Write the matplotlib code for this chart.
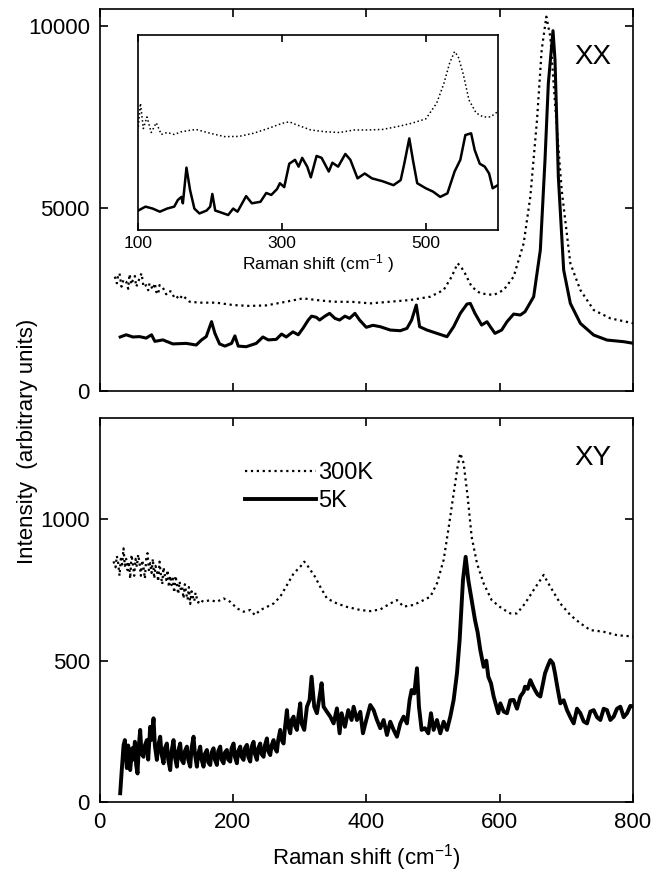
import matplotlib
matplotlib.use("Agg")
import matplotlib.pyplot as plt

# ---- data ----
# XX polarisation, main panel
xx5_shift = [31, 40, 50, 60, 70, 78, 83, 95, 110, 130, 145, 153, 160, 168, 173, 180, 188, 198, 203, 208,
             220, 235, 245, 253, 265, 273, 280, 290, 298, 305, 313, 318, 325, 330, 338, 345, 353, 360, 368,
             375, 383, 390, 400, 410, 421, 436, 451, 461, 468, 475, 480, 491, 506, 521, 531, 541, 551, 556,
             563, 573, 581, 586, 593, 603, 611, 621, 631, 638, 651, 661, 668, 673, 680, 683, 688, 696, 706,
             721, 741, 761, 786, 801]
xx5_int = [1480, 1540, 1480, 1490, 1450, 1540, 1360, 1400, 1290, 1305, 1260, 1400, 1490, 1900, 1580, 1290,
           1230, 1305, 1510, 1230, 1214, 1305, 1480, 1400, 1415, 1560, 1480, 1620, 1540, 1715, 1944, 2050,
           2020, 1944, 2050, 2127, 1990, 1944, 2050, 1990, 2127, 1944, 1745, 1800, 1761, 1670, 1652, 1716,
           1944, 2355, 1761, 1670, 1579, 1488, 1761, 2127, 2382, 2400, 2127, 1807, 1898, 1761, 1579, 1670,
           1898, 2108, 2081, 2172, 2583, 3862, 6325, 8425, 9867, 9064, 5868, 3313, 2400, 1853, 1533, 1396,
           1351, 1305]

xx300_shift = [23, 26, 28, 30, 33, 36, 40, 43, 45, 48, 50, 53, 55, 58, 60, 63, 66, 70, 73, 75, 78, 80, 83,
               85, 88, 90, 95, 100, 104, 108, 112, 115, 120, 124, 128, 135, 150, 175, 200, 225, 250, 280,
               305, 325, 350, 380, 406, 436, 466, 496, 516, 528, 537, 542, 548, 558, 571, 591, 606, 621,
               636, 646, 656, 663, 670, 676, 683, 693, 706, 721, 741, 766, 801]
xx300_int = [3131, 2950, 3180, 3222, 2857, 3050, 2994, 2800, 3200, 2920, 3040, 3150, 2857, 2980, 3100, 3222,
             2850, 2900, 2760, 2948, 2850, 2780, 2950, 2720, 2650, 2900, 2830, 2650, 2740, 2720, 2560, 2600,
             2510, 2620, 2560, 2446, 2420, 2420, 2355, 2330, 2345, 2446, 2537, 2492, 2446, 2440, 2400, 2446,
             2492, 2583, 2766, 3131, 3496, 3404, 3222, 2857, 2674, 2629, 2766, 3131, 4043, 5321, 7420, 9337,
             10250, 9702, 7877, 5504, 3496, 2766, 2218, 1990, 1853]

# XX inset (arbitrary units)
in5_shift = [100, 110, 120, 130, 140, 150, 155, 160, 162, 167, 172, 178, 185, 195, 200, 203, 207, 215, 225,
             232, 238, 250, 258, 270, 278, 285, 293, 297, 303, 310, 318, 323, 328, 335, 340, 348, 355, 365,
             370, 378, 388, 395, 405, 415, 425, 440, 455, 465, 470, 477, 482, 488, 500, 510, 520, 530, 540,
             548, 555, 563, 568, 575, 582, 588, 593, 600]
in5_int = [10, 12, 11, 9.4, 11, 12, 15.4, 17, 13.7, 32, 20.5, 11, 8.5, 10, 12, 18.5, 10, 9, 7.7, 11, 9.4,
           17.4, 13.7, 14.5, 19, 18, 21, 24, 22, 34, 36, 32.5, 37, 32.5, 27, 38, 37, 30, 34.5, 32.5, 39, 36,
           26.5, 29, 26.5, 25, 23, 25.6, 34, 47, 36, 24, 21.4, 19.7, 17, 18.8, 30, 36, 48.7, 49.6, 41, 34,
           32.5, 29, 21.4, 23]

in300_shift = [100, 103, 107, 112, 118, 125, 132, 140, 150, 160, 180, 200, 220, 240, 260, 280, 300, 310,
               320, 340, 360, 380, 400, 420, 440, 460, 480, 500, 515, 525, 533, 540, 545, 552, 560, 570,
               580, 590, 600]
in300_int = [53, 65, 52, 58, 50, 55, 49, 50, 49, 50.4, 51.6, 49.6, 47.9, 48, 49.6, 52, 54.7, 55.5, 54,
             51.3, 50.4, 50, 51.3, 51.3, 51.6, 53, 54.7, 57, 65, 75, 85.5, 91.5, 89, 80, 66.7, 60, 58, 58,
             60.7]

# XY polarisation
xy300_shift = [21, 24, 26, 28, 30, 32, 34, 36, 38, 40, 42, 44, 46, 48, 50, 52, 54, 56, 58, 60, 62, 64, 66,
               68, 70, 72, 74, 76, 78, 80, 82, 84, 86, 88, 90, 92, 94, 96, 98, 100, 102, 104, 106, 108, 110,
               112, 114, 116, 118, 120, 122, 124, 126, 128, 130, 132, 134, 136, 138, 140, 142, 144, 146, 148,
               150, 156, 166, 176, 186, 196, 206, 216, 226, 233, 241, 251, 261, 271, 281, 291, 301, 307, 313,
               323, 331, 341, 356, 371, 391, 406, 421, 436, 446, 456, 471, 486, 496, 506, 516, 523, 531, 537,
               541, 546, 552, 558, 566, 576, 588, 603, 616, 626, 638, 651, 661, 666, 676, 691, 706, 721, 736,
               756, 776, 801]
xy300_int = [851, 830, 870, 845, 800, 860, 840, 897, 835, 860, 820, 850, 790, 874, 840, 800, 860, 832, 875,
             845, 800, 855, 830, 790, 860, 880, 820, 845, 810, 860, 790, 835, 820, 780, 850, 803, 770, 830,
             800, 785, 820, 760, 800, 767, 790, 740, 800, 770, 735, 780, 750, 760, 720, 770, 738, 715, 760,
             700, 745, 725, 710, 740, 720, 705, 715, 708, 714, 708, 720, 708, 685, 673, 679, 661, 679, 690,
             702, 726, 767, 808, 832, 850, 832, 797, 761, 720, 702, 690, 679, 675, 681, 702, 714, 691, 697,
             714, 726, 773, 856, 962, 1091, 1186, 1233, 1198, 1080, 938, 844, 773, 714, 685, 667, 667, 702,
             750, 785, 803, 761, 702, 661, 632, 608, 602, 590, 585]

xy5_shift = [31, 33, 36, 38, 41, 43, 46, 49, 51, 53, 55, 57, 59, 61, 63, 66, 68, 71, 73, 76, 78, 81, 83, 86,
             88, 91, 93, 96, 98, 101, 103, 106, 108, 111, 113, 116, 118, 121, 123, 126, 128, 131, 133, 136,
             138, 141, 143, 146, 148, 151, 153, 156, 158, 161, 163, 166, 168, 171, 173, 176, 178, 181, 183,
             186, 188, 191, 193, 196, 198, 201, 203, 206, 208, 211, 213, 216, 218, 221, 223, 226, 228, 231,
             233, 236, 238, 241, 243, 246, 248, 251, 253, 256, 258, 261, 263, 266, 268, 271, 273, 276, 278,
             281, 283, 286, 288, 291, 293, 296, 298, 301, 303, 307, 311, 315, 318, 322, 326, 330, 333, 336,
             341, 346, 351, 356, 360, 363, 368, 373, 378, 381, 386, 391, 395, 400, 406, 411, 416, 421, 426,
             431, 436, 441, 446, 451, 456, 461, 465, 468, 472, 476, 479, 483, 488, 493, 497, 501, 506, 511,
             516, 521, 526, 531, 536, 540, 545, 549, 553, 558, 563, 567, 571, 576, 580, 583, 587, 591, 595,
             598, 601, 606, 611, 616, 621, 626, 631, 636, 638, 642, 646, 650, 653, 657, 661, 665, 668, 672,
             676, 680, 683, 687, 691, 696, 701, 706, 711, 716, 721, 726, 731, 736, 741, 746, 751, 756, 761,
             766, 771, 776, 781, 786, 791, 796, 801]
xy5_int = [31, 101, 200, 219, 120, 200, 113, 190, 150, 213, 130, 101, 200, 255, 170, 160, 200, 219, 150, 266,
           220, 296, 200, 149, 200, 231, 170, 137, 190, 207, 150, 113, 180, 219, 160, 125, 180, 207, 150, 137,
           180, 196, 150, 125, 190, 231, 170, 125, 170, 196, 150, 125, 170, 184, 140, 131, 175, 190, 150, 131,
           180, 196, 150, 137, 175, 184, 150, 143, 190, 207, 160, 137, 180, 196, 160, 149, 190, 202, 160, 143,
           195, 213, 170, 149, 190, 207, 170, 160, 200, 225, 180, 166, 200, 219, 190, 178, 220, 255, 220, 207,
           260, 325, 270, 243, 290, 302, 270, 255, 300, 349, 278, 255, 337, 361, 443, 337, 314, 373, 420, 337,
           319, 302, 278, 331, 243, 314, 266, 325, 290, 337, 290, 319, 243, 290, 343, 325, 290, 261, 290, 237,
           284, 255, 231, 278, 302, 278, 361, 396, 384, 473, 337, 255, 261, 243, 314, 255, 290, 243, 284, 255,
           302, 361, 455, 573, 785, 867, 785, 714, 644, 600, 537, 478, 500, 443, 420, 373, 340, 314, 349, 320,
           314, 360, 361, 330, 373, 390, 408, 400, 431, 410, 396, 380, 373, 420, 455, 480, 502, 490, 455, 400,
           349, 360, 325, 300, 278, 330, 314, 285, 278, 320, 325, 300, 290, 330, 325, 290, 302, 330, 337, 300,
           314, 340, 337]

main_ticks = [0, 200, 400, 600, 800]
xx_yticks = [0, 5000, 10000]
xy_yticks = [0, 500, 1000]
inset_ticks = [100, 300, 500]

plt.rcParams['font.family'] = ['Liberation Sans', 'DejaVu Sans']
plt.rcParams['mathtext.fontset'] = 'custom'
plt.rcParams['mathtext.rm'] = 'Liberation Sans'
plt.rcParams['mathtext.it'] = 'Liberation Sans'


def style_axes(ax, size, length, pad):
    ax.tick_params(direction='in', top=True, right=True, length=length, width=1.2,
                   labelsize=size, pad=pad)
    for s in ax.spines.values():
        s.set_linewidth(1.2)


fig = plt.figure(figsize=(6.63, 8.75), dpi=100)

# top panel: XX
ax1 = fig.add_axes([0.1501, 0.5531, 0.8047, 0.4366])
ax1.plot(xx300_shift, xx300_int, color='black', linestyle=':', linewidth=1.6)
ax1.plot(xx5_shift, xx5_int, color='black', linewidth=2.2)
ax1.set_xlim(0, 800)
ax1.set_ylim(0, 10460)
ax1.set_xticks(main_ticks)
ax1.set_xticklabels([])
ax1.set_yticks(xx_yticks)
style_axes(ax1, 16, 5.5, 7)
ax1.text(0.925, 0.875, 'XX', transform=ax1.transAxes, fontsize=20, ha='center', va='center')

# inset
axi = fig.add_axes([0.2086, 0.7371, 0.5421, 0.2229])
axi.plot(in300_shift, in300_int, color='black', linestyle=':', linewidth=1.1)
axi.plot(in5_shift, in5_int, color='black', linewidth=1.8)
axi.set_xlim(100, 600)
axi.set_ylim(0, 100)
axi.set_xticks(inset_ticks)
axi.set_yticks([])
style_axes(axi, 12.5, 5, 4)
axi.set_xlabel('Raman shift (cm$^{-1}$ )', fontsize=12.5, labelpad=1)

# bottom panel: XY
ax2 = fig.add_axes([0.1501, 0.0834, 0.8047, 0.4389])
ax2.plot(xy300_shift, xy300_int, color='black', linestyle=':', linewidth=1.6, label='300K')
ax2.plot(xy5_shift, xy5_int, color='black', linewidth=2.8, label='5K')
ax2.set_xlim(0, 800)
ax2.set_ylim(0, 1358)
ax2.set_xticks(main_ticks)
ax2.set_yticks(xy_yticks)
style_axes(ax2, 16, 5.5, 7)
ax2.set_xlabel('Raman shift (cm$^{-1}$)', fontsize=16, labelpad=7)
ax2.text(0.925, 0.896, 'XY', transform=ax2.transAxes, fontsize=20, ha='center', va='center')
ax2.legend(loc='upper left', bbox_to_anchor=(0.25, 0.915), frameon=False, fontsize=17,
           handlelength=3.0, handletextpad=0.1, labelspacing=0.25, borderpad=0)

fig.text(0.041, 0.496, 'Intensity  (arbitrary units)', rotation=90, fontsize=16,
         ha='center', va='center')

fig.savefig('out.png', dpi=100)
